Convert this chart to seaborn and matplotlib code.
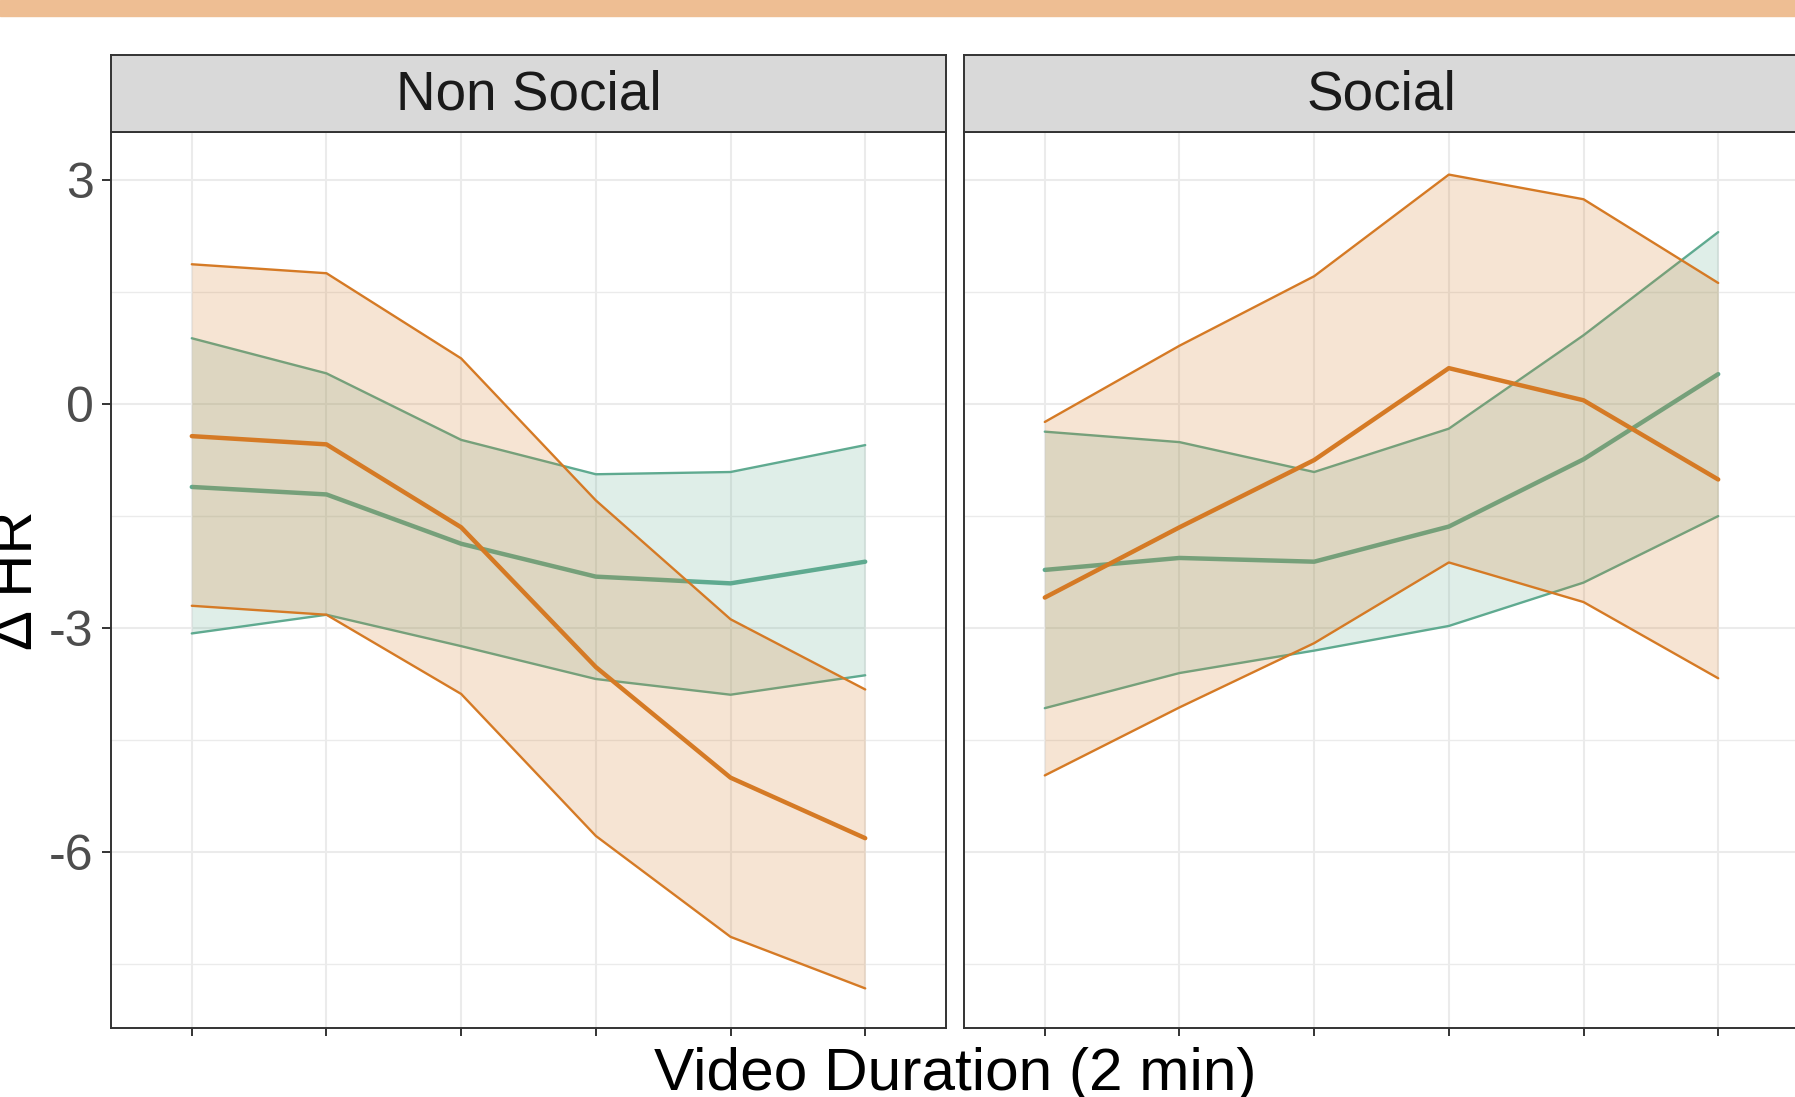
import numpy as np
import pandas as pd
import matplotlib
matplotlib.use('Agg')
import matplotlib.pyplot as plt
import seaborn as sns

sns.set_style('white')
plt.rcParams['font.family'] = ['Liberation Sans', 'DejaVu Sans']

# 값
minutes = [1, 2, 3, 4, 5, 6]
panels = ['Non Social', 'Social']
groups = ['green', 'orange']  # 그리는 순서: 초록 먼저, 주황 위에

ns_orange_mean = [-0.43, -0.54, -1.65, -3.52, -5.00, -5.81]
ns_orange_lo = [-2.70, -2.82, -3.88, -5.78, -7.13, -7.82]
ns_orange_hi = [1.87, 1.75, 0.61, -1.29, -2.88, -3.82]
ns_green_mean = [-1.11, -1.21, -1.87, -2.31, -2.40, -2.11]
ns_green_lo = [-3.07, -2.82, -3.24, -3.68, -3.89, -3.63]
ns_green_hi = [0.88, 0.41, -0.48, -0.94, -0.91, -0.55]

s_orange_mean = [-2.59, -1.65, -0.75, 0.48, 0.05, -1.01]
s_orange_lo = [-4.97, -4.06, -3.20, -2.12, -2.65, -3.67]
s_orange_hi = [-0.24, 0.78, 1.71, 3.07, 2.74, 1.62]
s_green_mean = [-2.22, -2.06, -2.11, -1.64, -0.74, 0.40]
s_green_lo = [-4.07, -3.60, -3.30, -2.97, -2.39, -1.50]
s_green_hi = [-0.37, -0.51, -0.91, -0.33, 0.92, 2.30]

y_ticks = [3, 0, -3, -6]
y_minor = [1.5, -1.5, -4.5, -7.5]

palette = {'orange': '#D57A25', 'green': '#5FAA90'}

# 긴 형식 데이터프레임
rows = []
series = {
    ('Non Social', 'orange'): (ns_orange_mean, ns_orange_lo, ns_orange_hi),
    ('Non Social', 'green'): (ns_green_mean, ns_green_lo, ns_green_hi),
    ('Social', 'orange'): (s_orange_mean, s_orange_lo, s_orange_hi),
    ('Social', 'green'): (s_green_mean, s_green_lo, s_green_hi),
}
for (panel, grp), (m, lo, hi) in series.items():
    for i, x in enumerate(minutes):
        rows.append({'panel': panel, 'group': grp, 'minute': x,
                     'mean': m[i], 'lo': lo[i], 'hi': hi[i]})
df = pd.DataFrame(rows)

W, H = 1795, 1097
fig = plt.figure(figsize=(W / 100, H / 100), dpi=100)

# 상단 주황색 띠
fig.patches.append(plt.Rectangle((0, 1 - 16 / H), 1, 16 / H, transform=fig.transFigure,
                                 color='#EEBE93', zorder=0))

plot_top, plot_bot = 132, 1028
lefts = [111, 964]
pw = 835

for k, panel in enumerate(panels):
    ax = fig.add_axes([lefts[k] / W, (H - plot_bot) / H, pw / W, (plot_bot - plot_top) / H])
    sub = df[df['panel'] == panel]

    # 격자
    for y in y_minor:
        ax.axhline(y, color='#EBEBEB', lw=1.0, zorder=0)
    for y in y_ticks:
        ax.axhline(y, color='#EBEBEB', lw=1.5, zorder=0)
    for x in minutes:
        ax.axvline(x, color='#EBEBEB', lw=1.5, zorder=0)

    # 그룹별: 리본 + 선 (주황이 위에 덮임)
    for j, grp in enumerate(groups):
        g = sub[sub['group'] == grp]
        z = 1 + j * 3
        ax.fill_between(g['minute'], g['lo'], g['hi'], color=palette[grp], alpha=0.2, lw=0, zorder=z)
        sns.lineplot(data=g, x='minute', y='lo', color=palette[grp], lw=1.7, ax=ax, zorder=z + 1)
        sns.lineplot(data=g, x='minute', y='hi', color=palette[grp], lw=1.7, ax=ax, zorder=z + 1)
        sns.lineplot(data=g, x='minute', y='mean', color=palette[grp], lw=3.2, ax=ax, zorder=z + 2)

    ax.set_xlim(0.4, 6.6)
    ax.set_ylim(-8.35, 3.64)
    ax.set_xticks(minutes)
    ax.set_xticklabels([])
    ax.set_xlabel('')
    ax.set_ylabel('')
    if k == 0:
        ax.set_yticks(y_ticks)
        ax.set_yticklabels([str(v) for v in y_ticks], fontsize=36, color='#4D4D4D')
        ax.tick_params(axis='y', length=6.5, width=1.4, color='#333333', pad=6, left=True)
    else:
        ax.set_yticks([])
    ax.tick_params(axis='x', length=6, width=1.4, color='#333333', bottom=True)
    for sp in ax.spines.values():
        sp.set_color('#333333')
        sp.set_linewidth(1.4)
        sp.set_zorder(10)

    # 패널 제목 띠
    st = fig.add_axes([lefts[k] / W, (H - plot_top) / H, pw / W, 77 / H])
    st.set_facecolor('#D9D9D9')
    st.set_xticks([])
    st.set_yticks([])
    for sp in st.spines.values():
        sp.set_color('#333333')
        sp.set_linewidth(1.4)
    st.text(0.5, 0.47, panel, ha='center', va='center', fontsize=39.5, color='#1A1A1A',
            transform=st.transAxes)

fig.text(955 / W, 1 - 1090 / H, 'Video Duration (2 min)', ha='center', va='baseline',
         fontsize=43.5, color='black')
fig.text(32 / W, 1 - 580 / H, 'Δ HR', rotation=90, rotation_mode='anchor',
         ha='center', va='baseline', fontsize=43, color='black')

fig.savefig('out.png', dpi=100)
